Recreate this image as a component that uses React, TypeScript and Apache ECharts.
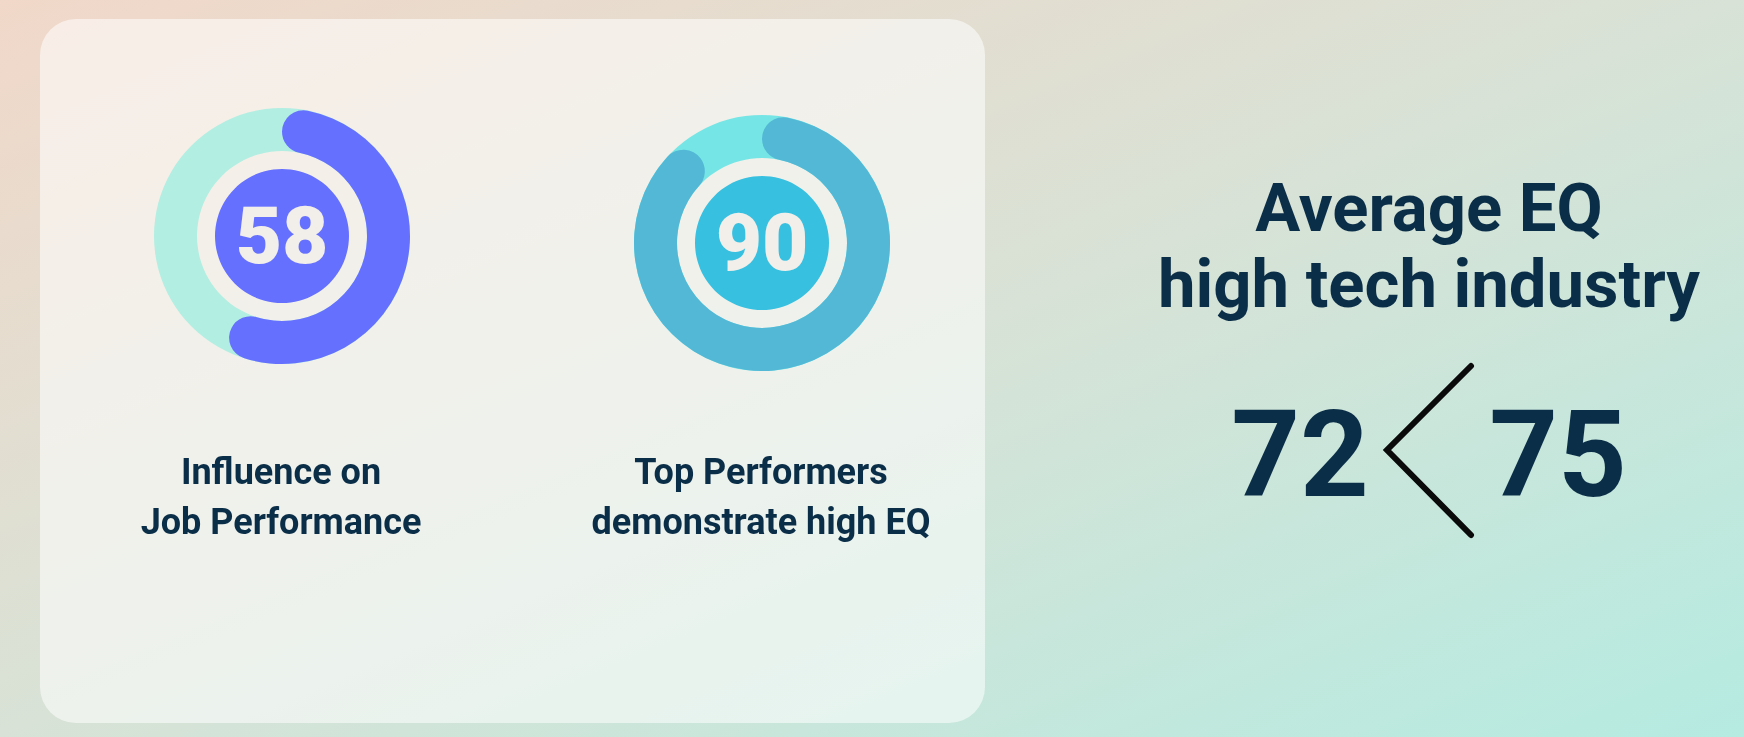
import { useEffect, useRef } from 'react';
import * as echarts from 'echarts';

// EQ stats – two donuts on a card plus the industry comparison on the right

const metricLabels = ['Influence on\nJob Performance', 'Top Performers\ndemonstrate high EQ'];
const metricValues = [58, 90];
const compareTitle = 'Average EQ\nhigh tech industry';
const compareValues = [72, 75];

const donutCenters = [[282, 236], [762, 243]];
const trackColors = ['#B2EEE2', '#76E5E5'];
const arcColors = ['#6670FF', '#52B8D6'];
const diskColors = ['#6670FF', '#38C0E0'];

const navy = '#0B2E48';

export default function App() {
    const chartRef = useRef<HTMLDivElement>(null);

    useEffect(() => {
        if (!chartRef.current) return;
        const chart = echarts.init(chartRef.current, null, { renderer: 'svg' });

        const series: any[] = [];
        metricValues.forEach((v, i) => {
            const center = donutCenters[i];
            // full background ring
            series.push({
                type: 'pie',
                center,
                radius: [85, 128],
                silent: true,
                z: 3,
                label: { show: false },
                labelLine: { show: false },
                data: [{ value: 100, itemStyle: { color: trackColors[i] } }],
            });
            // progress arc with rounded ends
            series.push({
                type: 'pie',
                center,
                radius: [85, 128],
                startAngle: 90,
                clockwise: true,
                silent: true,
                z: 4,
                label: { show: false },
                labelLine: { show: false },
                data: [
                    { value: v, itemStyle: { color: arcColors[i], borderRadius: 21.5 } },
                    { value: 100 - v, itemStyle: { color: 'transparent' } },
                ],
            });
            // inner disk with the number
            series.push({
                type: 'pie',
                center,
                radius: [0, 67],
                silent: true,
                z: 4,
                labelLine: { show: false },
                label: {
                    show: true,
                    position: 'center',
                    formatter: '{c}',
                    color: '#F2EFEA',
                    fontSize: 80,
                    fontWeight: 900,
                    fontFamily: 'Roboto',
                },
                data: [{ value: v, name: metricLabels[i], itemStyle: { color: diskColors[i] } }],
            });
        });

        const labelTexts = metricLabels.map((t, i) => ({
            type: 'text',
            z: 20,
            x: donutCenters[i][0] - 1,
            y: 497,
            style: {
                text: t,
                fill: navy,
                fontSize: 36,
                fontWeight: 700,
                fontFamily: 'Roboto',
                lineHeight: 50,
                textAlign: 'center',
                textVerticalAlign: 'middle',
            },
        }));

        const compareTexts = compareValues.map((v, i) => ({
            type: 'text',
            z: 20,
            x: i === 0 ? 1300 : 1558,
            y: 455,
            style: {
                text: String(v),
                fill: navy,
                fontSize: 120,
                fontWeight: 700,
                fontFamily: 'Roboto',
                textAlign: 'center',
                textVerticalAlign: 'middle',
            },
        }));

        const option: any = {
            animation: false,
            backgroundColor: 'transparent',
            graphic: [
                {
                    type: 'rect',
                    z: 0,
                    shape: { x: 0, y: 0, width: 1744, height: 737 },
                    style: {
                        fill: new echarts.graphic.LinearGradient(0, 0, 1, 1, [
                            { offset: 0, color: '#F1D8C9' },
                            { offset: 0.5, color: '#D8E2D6' },
                            { offset: 1, color: '#B5EBE1' },
                        ]),
                    },
                },
                {
                    type: 'rect',
                    z: 1,
                    shape: { x: 40, y: 19, width: 945, height: 704, r: 36 },
                    style: { fill: 'rgba(255,255,255,0.55)' },
                },
                ...labelTexts,
                {
                    type: 'text',
                    z: 20,
                    x: 1429,
                    y: 246,
                    style: {
                        text: compareTitle,
                        fill: navy,
                        fontSize: 67,
                        fontWeight: 700,
                        fontFamily: 'Roboto',
                        lineHeight: 76,
                        textAlign: 'center',
                        textVerticalAlign: 'middle',
                    },
                },
                ...compareTexts,
                {
                    type: 'polyline',
                    z: 20,
                    shape: { points: [[1471, 366], [1387, 450], [1471, 535]] },
                    style: { stroke: '#0A0A0A', lineWidth: 6, lineCap: 'round', lineJoin: 'miter', fill: 'none' },
                },
            ],
            series,
        };

        chart.setOption(option);

        return () => {
            chart.dispose();
        };
    }, []);

    return (
        <div
            ref={chartRef}
            style={{ position: 'fixed', left: 0, top: 0, width: '1744px', height: '737px' }}
        />
    );
}
